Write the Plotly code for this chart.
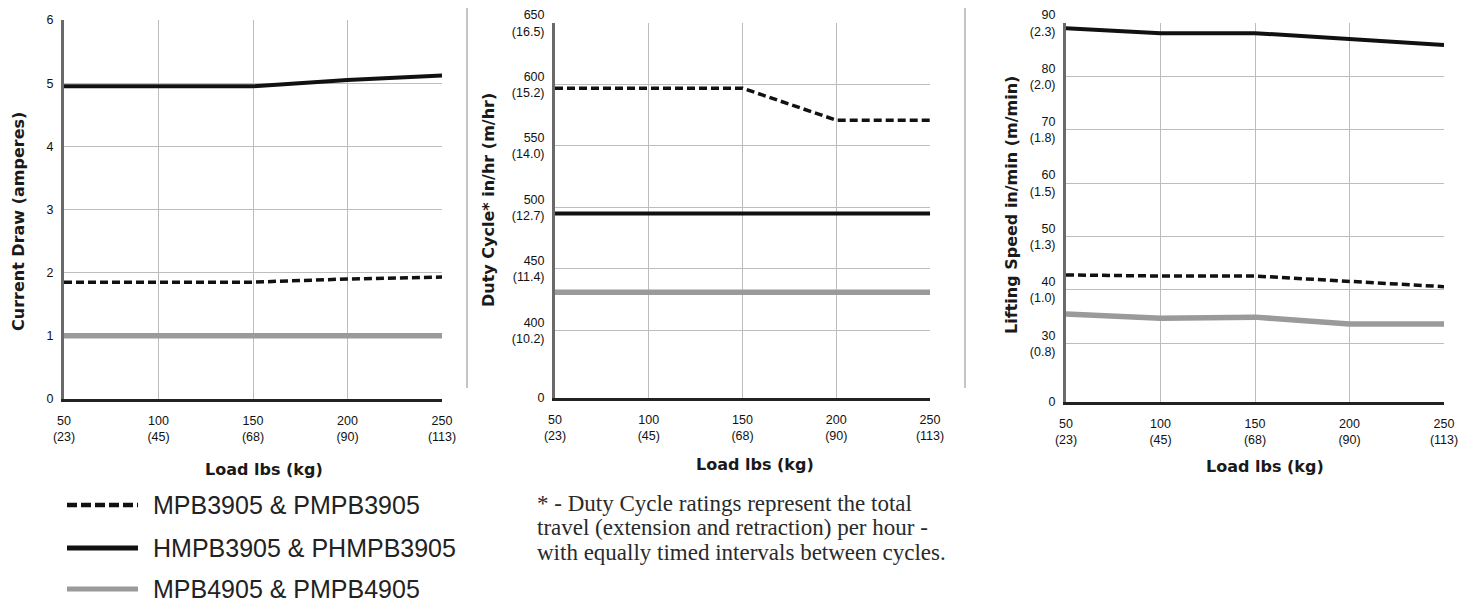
import plotly.graph_objects as go

# ---------------- data ----------------
loads_lbs = [50, 100, 150, 200, 250]
loads_kg = [23, 45, 68, 90, 113]

series_names = ["MPB3905 & PMPB3905", "HMPB3905 & PHMPB3905", "MPB4905 & PMPB4905"]

current_mpb3905 = [1.85, 1.85, 1.85, 1.90, 1.93]
current_hmpb3905 = [4.95, 4.95, 4.95, 5.05, 5.12]
current_mpb4905 = [1.00, 1.00, 1.00, 1.00, 1.00]

duty_mpb3905 = [597, 597, 597, 571, 571]
duty_hmpb3905 = [495, 495, 495, 495, 495]
duty_mpb4905 = [431, 431, 431, 431, 431]

speed_mpb3905 = [42.8, 42.6, 42.6, 41.6, 40.6]
speed_hmpb3905 = [89.0, 88.1, 88.1, 87.0, 85.9]
speed_mpb4905 = [35.5, 34.7, 34.9, 33.6, 33.6]

current_ticks = [0, 1, 2, 3, 4, 5, 6]
duty_ticks = [400, 450, 500, 550, 600, 650]
duty_ticks_m = ["10.2", "11.4", "12.7", "14.0", "15.2", "16.5"]
speed_ticks = [30, 40, 50, 60, 70, 80, 90]
speed_ticks_m = ["0.8", "1.0", "1.3", "1.5", "1.8", "2.0", "2.3"]

footnote_lines = [
    "* - Duty Cycle ratings represent the total",
    "travel (extension and retraction) per hour -",
    "with equally timed intervals between cycles.",
]

# ---------------- geometry helpers (screen pixels -> paper) ----------------
W, H = 1466, 602
OFF = 8  # page body margin


def xd(a, b):
    return [(a - OFF) / W, (b - OFF) / W]


def yd(top, bottom):
    return [1 - (bottom - OFF) / H, 1 - (top - OFF) / H]


def px(x):
    return (x - OFF) / W


def py(y):
    return 1 - (y - OFF) / H


BLACK = "#111111"
GRAY = "#9a9a9a"
styles = [
    dict(color=BLACK, width=3.5, dash="8px,4px"),
    dict(color=BLACK, width=4),
    dict(color=GRAY, width=5.5),
]

fig = go.Figure()

panels = [
    ("x", "y", [current_mpb3905, current_hmpb3905, current_mpb4905]),
    ("x2", "y2", [duty_mpb3905, duty_hmpb3905, duty_mpb4905]),
    ("x3", "y3", [speed_mpb3905, speed_hmpb3905, speed_mpb4905]),
]
for xa, ya, data in panels:
    for idx in [2, 1, 0]:
        fig.add_trace(go.Scatter(
            x=loads_lbs, y=data[idx], mode="lines", line=styles[idx],
            name=series_names[idx], showlegend=False, xaxis=xa, yaxis=ya,
        ))

tick_font = dict(family="Liberation Sans", size=12.5, color="#111111")
xtext = [f"{a}<br>({b})" for a, b in zip(loads_lbs, loads_kg)]

common_x = dict(
    range=[50, 250], tickvals=loads_lbs, ticktext=xtext, showgrid=True,
    gridcolor="#bdbdbd", gridwidth=1, showline=True, linecolor="#222222",
    linewidth=2.5, ticks="", tickfont=tick_font, zeroline=False,
    ticklabelstandoff=8, fixedrange=True, automargin=False,
    ticklabeloverflow="allow",
)
common_y = dict(
    showgrid=True, gridcolor="#bdbdbd", gridwidth=1, showline=True,
    linecolor="#6a6a6a", linewidth=3, ticks="", tickfont=tick_font,
    zeroline=False, ticklabelstandoff=5, fixedrange=True, automargin=False,
    ticklabeloverflow="allow",
)

fig.update_layout(
    width=W, height=H,
    margin=dict(l=0, r=0, t=0, b=0, pad=0, autoexpand=False),
    paper_bgcolor="white", plot_bgcolor="white",
    showlegend=False,
    xaxis=dict(domain=xd(64, 442), anchor="y", **common_x),
    yaxis=dict(domain=yd(20, 399), anchor="x", range=[0, 6],
               tickvals=current_ticks, ticktext=[str(t) for t in current_ticks], **common_y),
    xaxis2=dict(domain=xd(555, 930), anchor="y2", **common_x),
    yaxis2=dict(domain=yd(23, 398), anchor="x2", range=[345, 650],
                tickvals=[345] + duty_ticks,
                ticktext=["0"] + [f"{a}<br>({b})" for a, b in zip(duty_ticks, duty_ticks_m)],
                **common_y),
    xaxis3=dict(domain=xd(1066, 1444), anchor="y3", **common_x),
    yaxis3=dict(domain=yd(23, 402), anchor="x3", range=[19, 90],
                tickvals=[19] + speed_ticks,
                ticktext=["0"] + [f"{a}<br>({b})" for a, b in zip(speed_ticks, speed_ticks_m)],
                **common_y),
)

title_font = dict(family="DejaVu Sans", size=16, color="#1a1a1a")
annotations = []
for text, x, y in [("<b>Load lbs (kg)</b>", 264, 469),
                   ("<b>Load lbs (kg)</b>", 755, 464),
                   ("<b>Load lbs (kg)</b>", 1265, 466)]:
    annotations.append(dict(text=text, x=px(x), y=py(y), xref="paper", yref="paper",
                            showarrow=False, font=title_font, xanchor="center", yanchor="middle"))
for text, x, y in [("<b>Current Draw (amperes)</b>", 18, 222),
                   ("<b>Duty Cycle* in/hr (m/hr)</b>", 488, 200),
                   ("<b>Lifting Speed in/min (m/min)</b>", 1011, 205)]:
    annotations.append(dict(text=text, x=px(x), y=py(y), xref="paper", yref="paper",
                            showarrow=False, font=title_font, textangle=-90,
                            xanchor="center", yanchor="middle"))

# legend (custom)
legend_rows = [505, 548, 589]
shapes = []
for name, style, yrow in zip(series_names, styles, legend_rows):
    st = dict(style)
    if "dash" in st:
        st["dash"] = "10px,4px"
        st["width"] = 4.5
    else:
        st["width"] = 5
    shapes.append(dict(type="line", xref="paper", yref="paper",
                       x0=px(67), x1=px(138), y0=py(yrow), y1=py(yrow), line=st))
    annotations.append(dict(text=name, x=px(151), y=py(yrow), xref="paper", yref="paper",
                            showarrow=False, xanchor="left", yanchor="middle",
                            font=dict(family="Liberation Sans", size=25, color="#222222")))

for line, yrow in zip(footnote_lines, [503, 527, 552]):
    annotations.append(dict(text=line, x=px(535), y=py(yrow), xref="paper", yref="paper",
                            showarrow=False, xanchor="left", yanchor="middle",
                            font=dict(family="Liberation Serif", size=23, color="#2a2a2a")))

for sx in [467, 965]:
    shapes.append(dict(type="line", xref="paper", yref="paper",
                       x0=px(sx), x1=px(sx), y0=py(0), y1=py(388),
                       line=dict(color="#8a8a8a", width=1)))

fig.update_layout(annotations=annotations, shapes=shapes)

fig.write_html("out.html")
